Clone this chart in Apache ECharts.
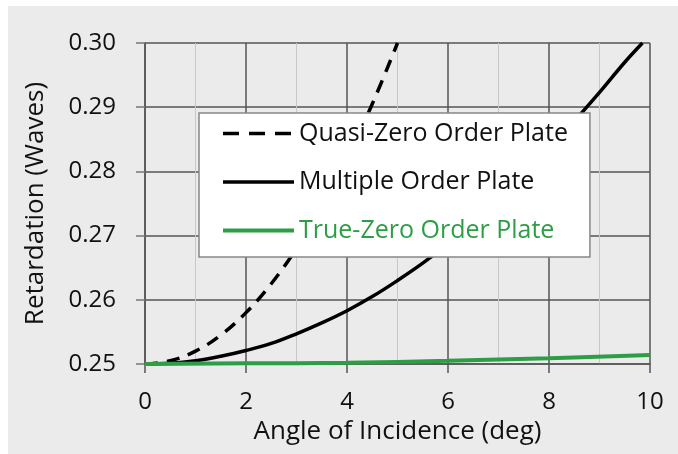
<!DOCTYPE html>
<html>
<head>
<meta charset="utf-8">
<script src="https://cdn.jsdelivr.net/npm/echarts@6/dist/echarts.min.js"></script>
<style>
  html, body { margin: 0; padding: 0; background: #ffffff; }
  #chart { position: absolute; left: 8px; top: 6px; width: 670px; height: 448px; background: #ebebeb; }
</style>
</head>
<body>
<div id="chart"></div>
<script>
const quasiAngles = [0, 0.5, 1, 1.5, 2, 2.5, 3, 3.5, 4, 4.5, 5];
const quasiValues = [0.25, 0.2505, 0.252, 0.2545, 0.258, 0.2625, 0.268, 0.2745, 0.282, 0.2905, 0.30];

const multipleAngles = [0, 0.5, 1, 1.5, 2, 2.5, 3, 3.5, 4, 4.5, 5, 5.5, 6, 6.5, 7, 7.5, 8, 8.5, 9, 9.5, 9.85];
const multipleValues = [0.25, 0.2501, 0.2505, 0.2512, 0.2521, 0.2532, 0.2547, 0.2564, 0.2583, 0.2605, 0.2630, 0.2657, 0.2687, 0.2720, 0.2755, 0.2793, 0.2834, 0.2878, 0.2923, 0.2970, 0.30];

const trueZeroAngles = [0, 2, 4, 6, 8, 10];
const trueZeroValues = [0.25, 0.2501, 0.2502, 0.2505, 0.2509, 0.2514];

const seriesNames = ['Quasi-Zero Order Plate', 'Multiple Order Plate', 'True-Zero Order Plate'];

const FONT = 'Open Sans';
const GREEN = '#2e9e44';
const GRID_DARK = '#555555';
const DASH = [13, 9];

function pairs(xs, ys) {
  return xs.map((x, i) => [x, ys[i]]);
}

const chart = echarts.init(document.getElementById('chart'), null, { renderer: 'canvas' });

chart.setOption({
  backgroundColor: '#ebebeb',
  animation: false,
  grid: {
    left: 137,
    top: 37,
    right: 28,
    bottom: 90,
    containLabel: false
  },
  legend: {
    orient: 'vertical',
    left: 191,
    top: 107,
    backgroundColor: '#ffffff',
    borderColor: '#888888',
    borderWidth: 1.5,
    borderRadius: 0,
    padding: [8, 22, 14, 22],
    itemWidth: 71,
    itemHeight: 24,
    itemGap: 23.5,
    itemTextGap: 5,
    itemStyle: { opacity: 0 },
    textStyle: {
      fontFamily: FONT,
      fontSize: 25,
      color: '#111111'
    },
    data: [
      { name: seriesNames[0], lineStyle: { width: 3.5, type: [16, 10] } },
      { name: seriesNames[1], lineStyle: { width: 3.5 } },
      { name: seriesNames[2], lineStyle: { width: 4 }, textStyle: { color: GREEN } }
    ]
  },
  xAxis: {
    type: 'value',
    min: 0,
    max: 10,
    interval: 2,
    name: 'Angle of Incidence (deg)',
    nameLocation: 'middle',
    nameGap: 55,
    nameTextStyle: { fontFamily: FONT, fontSize: 26, color: '#111111' },
    axisLine: { show: true, lineStyle: { color: GRID_DARK, width: 1.5 } },
    axisTick: { show: true, length: 9, lineStyle: { color: GRID_DARK, width: 1.5 } },
    axisLabel: {
      fontFamily: FONT,
      fontSize: 24,
      color: '#111111',
      margin: 26
    },
    splitLine: { show: true, lineStyle: { color: GRID_DARK, width: 1.5 } },
    minorTick: { show: false, splitNumber: 2 },
    minorSplitLine: { show: true, lineStyle: { color: '#c8c8c8', width: 1 } }
  },
  yAxis: {
    type: 'value',
    min: 0.25,
    max: 0.30,
    interval: 0.01,
    name: 'Retardation (Waves)',
    nameLocation: 'middle',
    nameGap: 96,
    nameTextStyle: { fontFamily: FONT, fontSize: 26, color: '#111111' },
    axisLine: { show: true, lineStyle: { color: GRID_DARK, width: 1.5 } },
    axisTick: { show: true, length: 9, lineStyle: { color: '#777777', width: 1.5 } },
    axisLabel: {
      fontFamily: FONT,
      fontSize: 24,
      color: '#111111',
      margin: 29,
      formatter: v => v.toFixed(2)
    },
    splitLine: { show: true, lineStyle: { color: GRID_DARK, width: 1.5 } }
  },
  series: [
    {
      name: seriesNames[0],
      type: 'line',
      showSymbol: false,
      symbol: 'none',
      smooth: 0.4,
      color: '#000000',
      lineStyle: { color: '#000000', width: 3.5, type: DASH },
      data: pairs(quasiAngles, quasiValues),
      z: 3
    },
    {
      name: seriesNames[1],
      type: 'line',
      showSymbol: false,
      symbol: 'none',
      smooth: 0.4,
      color: '#000000',
      lineStyle: { color: '#000000', width: 3.5 },
      data: pairs(multipleAngles, multipleValues),
      z: 3
    },
    {
      name: seriesNames[2],
      type: 'line',
      showSymbol: false,
      symbol: 'none',
      smooth: 0.4,
      color: GREEN,
      lineStyle: { color: GREEN, width: 4 },
      data: pairs(trueZeroAngles, trueZeroValues),
      z: 4
    }
  ]
});
</script>
</body>
</html>
